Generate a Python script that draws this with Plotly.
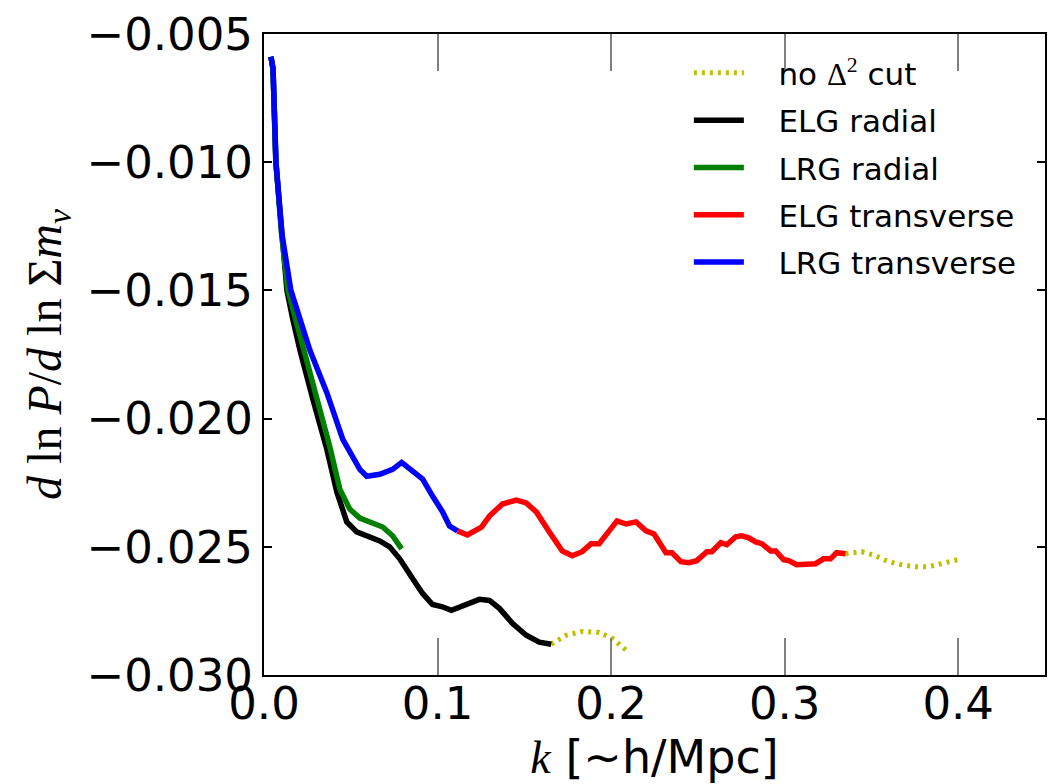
import plotly.graph_objects as go

# ---- data ----
elg_rad_k = [0.0040, 0.0052, 0.0068, 0.0100, 0.0132, 0.0167, 0.0207, 0.0282, 0.0362, 0.0420, 0.0477,
             0.0534, 0.0609, 0.0667, 0.0724, 0.0782, 0.0856, 0.0914, 0.0971, 0.1023, 0.1080,
             0.1144, 0.1200, 0.1241, 0.1299, 0.1356, 0.1431, 0.1511, 0.1586, 0.1655]
elg_rad_y = [-0.00589, -0.00636, -0.01000, -0.01279, -0.01500, -0.01616, -0.01733, -0.01926, -0.02120, -0.02287, -0.02403,
             -0.02442, -0.02461, -0.02477, -0.02500, -0.02547, -0.02624, -0.02682, -0.02725, -0.02733, -0.02748,
             -0.02729, -0.02718, -0.02705, -0.02709, -0.02740, -0.02798, -0.02845, -0.02872, -0.02880]

lrg_rad_k = [0.0040, 0.0052, 0.0069, 0.0101, 0.0138, 0.0184, 0.0224, 0.0305, 0.0379, 0.0437, 0.0494,
             0.0552, 0.0626, 0.0684, 0.0741, 0.0793]
lrg_rad_y = [-0.00589, -0.00636, -0.01000, -0.01279, -0.01500, -0.01616, -0.01733, -0.01926, -0.02109, -0.02275, -0.02353,
             -0.02388, -0.02407, -0.02423, -0.02457, -0.02508]

lrg_tr_k = [0.0040, 0.0052, 0.0069, 0.0103, 0.0155, 0.0207, 0.0264, 0.0362, 0.0454, 0.0552,
            0.0592, 0.0667, 0.0741, 0.0793, 0.0856, 0.0914, 0.0971, 0.1029, 0.1069, 0.1115]
lrg_tr_y = [-0.00589, -0.00636, -0.01000, -0.01279, -0.01500, -0.01616, -0.01733, -0.01899, -0.02081, -0.02198,
            -0.02225, -0.02217, -0.02198, -0.02171, -0.02202, -0.02236, -0.02302, -0.02364, -0.02419, -0.02438]

elg_tr_k = [0.1115, 0.1172, 0.1253, 0.1299, 0.1374, 0.1454, 0.1511, 0.1569, 0.1644, 0.1718,
            0.1776, 0.1833, 0.1885, 0.1931, 0.1989, 0.2034, 0.2086, 0.2144, 0.2201, 0.2247,
            0.2316, 0.2351, 0.2402, 0.2448, 0.2494, 0.2552, 0.2580, 0.2632, 0.2667, 0.2718,
            0.2753, 0.2793, 0.2833, 0.2868, 0.2920, 0.2948, 0.2994, 0.3023, 0.3069, 0.3178,
            0.3224, 0.3264, 0.3299, 0.3351]
elg_tr_y = [-0.02438, -0.02454, -0.02423, -0.02380, -0.02333, -0.02318, -0.02329, -0.02364, -0.02442, -0.02516,
            -0.02535, -0.02519, -0.02488, -0.02488, -0.02438, -0.02399, -0.02411, -0.02403, -0.02438, -0.02450,
            -0.02523, -0.02523, -0.02558, -0.02562, -0.02554, -0.02519, -0.02519, -0.02484, -0.02492, -0.02461,
            -0.02457, -0.02465, -0.02481, -0.02488, -0.02516, -0.02516, -0.02550, -0.02554, -0.02570, -0.02566,
            -0.02547, -0.02547, -0.02523, -0.02527]

nocut_low_k = [0.1655, 0.1741, 0.1833, 0.1931, 0.2006, 0.2086]
nocut_low_y = [-0.02880, -0.02845, -0.02830, -0.02834, -0.02857, -0.02903]
nocut_high_k = [0.3351, 0.3443, 0.3523, 0.3598, 0.3672, 0.3753, 0.3828, 0.3902, 0.3960, 0.4017]
nocut_high_y = [-0.02527, -0.02519, -0.02535, -0.02558, -0.02570, -0.02578, -0.02578, -0.02566, -0.02558, -0.02547]

x_ticks = [0.0, 0.1, 0.2, 0.3, 0.4]
y_ticks = [-0.030, -0.025, -0.020, -0.015, -0.010, -0.005]

SANS = "DejaVu Sans"
SERIF = "Liberation Serif"
LW = 5.5
PAD = "\u00a0\u00a0\u00a0"  # gap between legend line sample and label

fig = go.Figure()
fig.add_trace(go.Scatter(
    x=nocut_low_k + [None] + nocut_high_k, y=nocut_low_y + [None] + nocut_high_y,
    mode="lines", connectgaps=False, legendgroup="a",
    line=dict(color="#bfbf00", width=5, dash="3px,5px"),
    name=PAD + "no <span style='font-family:Liberation Serif'>Δ<sup>2</sup></span> cut"))
fig.add_trace(go.Scatter(x=elg_rad_k, y=elg_rad_y, mode="lines", legendgroup="b",
                         line=dict(color="#000000", width=LW), name=PAD + "ELG radial"))
fig.add_trace(go.Scatter(x=lrg_rad_k, y=lrg_rad_y, mode="lines", legendgroup="c",
                         line=dict(color="#008000", width=LW), name=PAD + "LRG radial"))
fig.add_trace(go.Scatter(x=elg_tr_k, y=elg_tr_y, mode="lines", legendgroup="d",
                         line=dict(color="#ff0000", width=LW), name=PAD + "ELG transverse"))
fig.add_trace(go.Scatter(x=lrg_tr_k, y=lrg_tr_y, mode="lines", legendgroup="e",
                         line=dict(color="#0000ff", width=LW), name=PAD + "LRG transverse"))

fig.update_layout(
    width=1055, height=784,
    margin=dict(l=264, r=8, t=32, b=107),
    paper_bgcolor="white", plot_bgcolor="white",
    font=dict(family=SANS, color="black"),
    showlegend=True,
    legend=dict(x=0.544, y=0.981, xanchor="left", yanchor="top",
                font=dict(family=SANS, size=31, color="black"),
                bgcolor="rgba(0,0,0,0)", borderwidth=0, itemwidth=50,
                tracegroupgap=4, traceorder="grouped"),
    xaxis=dict(range=[0, 0.45], tickvals=x_ticks, ticktext=[f"{v:.1f}" for v in x_ticks],
               showgrid=False, zeroline=False, showline=True, linecolor="black", linewidth=2,
               mirror="ticks", ticks="inside", ticklen=37, tickwidth=1.5, tickcolor="#808080",
               tickfont=dict(family=SANS, size=45, color="black"), ticklabelstandoff=-12,
               title=dict(text="<span style='font-family:Liberation Serif'><i>k</i></span> [~h/Mpc]",
                          font=dict(family=SANS, size=46, color="black"), standoff=14)),
    yaxis=dict(range=[-0.030, -0.005], tickvals=y_ticks,
               ticktext=[f"\u2212{abs(v):.3f}" for v in y_ticks],
               showgrid=False, zeroline=False, showline=True, linecolor="black", linewidth=2,
               mirror="ticks", ticks="inside", ticklen=8, tickwidth=1.5, tickcolor="black",
               tickfont=dict(family=SANS, size=45, color="black"),
               title=dict(text="<i>d</i> ln <i>P</i>/<i>d</i> ln Σ<i>m</i><sub><i>ν</i></sub>",
                          font=dict(family=SERIF, size=48, color="black"), standoff=10)),
)

fig.write_html("out.html")
